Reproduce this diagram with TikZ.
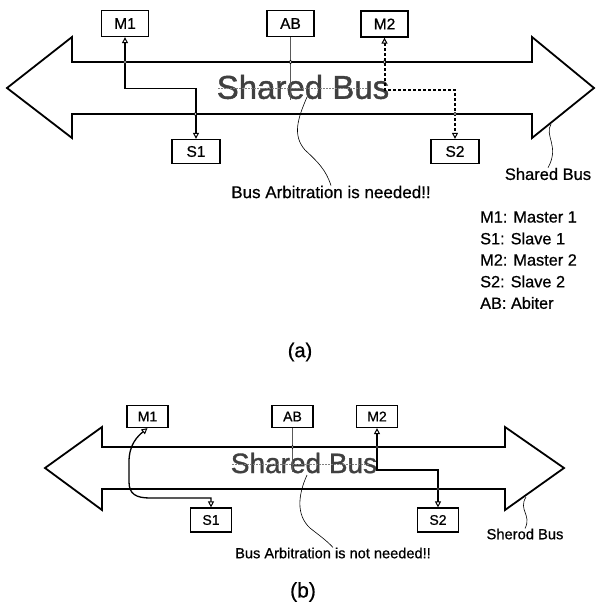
\documentclass[tikz,border=0pt]{standalone}
\usepackage{fontspec}
\setmainfont{Liberation Sans}[FakeBold=0.7]
\newfontfamily\bigfont{Liberation Sans}[FakeBold=1.2]
\usetikzlibrary{arrows.meta}
\begin{document}
\begin{tikzpicture}[x=1pt,y=-1pt,
  box/.style={draw, line width=1.3pt, fill=white, inner sep=0pt, minimum width=47pt, minimum height=26pt, font=\fontsize{15.5}{18}\selectfont},
  sbox/.style={draw, line width=1.2pt, fill=white, inner sep=0pt, minimum width=41pt, minimum height=22pt, font=\fontsize{14}{16}\selectfont},
  bus/.style={draw, line width=1.8pt, line join=miter, fill=white},
  tipA/.tip={Triangle[open,length=6pt,width=6pt,line width=1pt]},
  link/.style={line width=1.3pt, tipA-tipA},
  dlink/.style={line width=2pt, dash pattern=on 3pt off 2pt, tipA-tipA},
  leader/.style={line width=0.6pt},
  strike/.style={gray, line width=0.8pt, dash pattern=on 2pt off 1pt},
  bigtxt/.style={font=\bigfont\fontsize{33}{36}\selectfont, text=black!75, inner sep=0pt},
  midtxt/.style={font=\bigfont\fontsize{28}{30}\selectfont, text=black!75, inner sep=0pt},
  lbl/.style={inner sep=0pt},
  jdot/.style={draw, fill=white, line width=0.6pt}
]
\useasboundingbox (0,0) rectangle (596,610);

% ===================== (a) =====================
\draw[bus] (72,62) -- (72,37) -- (7,88) -- (72,138) -- (72,114) -- (532,114)
  -- (532,138) -- (594,88) -- (532,37) -- (532,62) -- cycle;
\node[bigtxt] (busa) at (303,87) {Shared Bus};
\draw[strike] (218,88) -- (367,88);

\node[box] (m1a) at (125,23.5) {M1};
\node[box] (aba) at (290.5,23.5) {AB};
\node[box] (m2a) at (384.5,24) {M2};
\node[box, minimum width=48pt, minimum height=24pt] (s1a) at (196,151.5) {S1};
\node[box, minimum width=48pt, minimum height=24pt] (s2a) at (455,151.5) {S2};

\draw[link] (m1a.south) -- ++(0,51) -| (s1a.north);
\draw[dlink] (m2a.south) -- ++(0,52) -| (s2a.north);
\draw[gray!70!black, line width=0.8pt] (aba.south) -- ++(0,63);

\foreach \p in {(125,62),(195.5,114),(290.5,62),(384.5,62),(455,114)}
  \filldraw[jdot] \p circle (1.6pt);

\node[lbl, font=\fontsize{17}{20}\selectfont] (arba) at (331,192) {Bus Arbitration is needed!!};
\node[lbl, font=\fontsize{16.5}{20}\selectfont] (sba) at (548,174) {Shared Bus};
\draw[leader] (307,97) .. controls (298,118) and (292,135) .. (305,150)
  .. controls (318,162) and (326,170) .. (arba.north);
\draw[leader] (551,124) .. controls (544,136) and (560,146) .. (sba.north);

\foreach \t/\yy [count=\i] in {M1: Master 1/217, S1: Slave 1/238.5, M2: Master 2/260, S2: Slave 2/281.5, AB: Abiter/303}
  \node[lbl, anchor=west, font=\fontsize{16.3}{20}\selectfont] (leg\i) at (480,\yy) {\t};

\node[lbl, font=\fontsize{20}{24}\selectfont] (capa) at (300,352) {(a)};

% ===================== (b) =====================
\draw[bus] (102,447) -- (102,427) -- (45,468) -- (102,510) -- (102,489) -- (505,489)
  -- (505,510) -- (564,468) -- (505,427) -- (505,447) -- cycle;
\node[midtxt] (busb) at (304,463) {Shared Bus};
\draw[strike] (232,464) -- (370,464);

\node[sbox] (m1b) at (147.5,416.5) {M1};
\node[sbox] (abb) at (292.5,416.5) {AB};
\node[sbox] (m2b) at (377,416.5) {M2};
\node[sbox, minimum height=24pt] (s1b) at (211,520) {S1};
\node[sbox, minimum height=24pt] (s2b) at (438,520) {S2};

\draw[link] (m1b.south) .. controls (138,436) and (129,444) .. (129,462)
  -- (129,482) .. controls (129,494) and (136,498) .. (150,498) -| (s1b.north);
\draw[link] (m2b.south) -- ++(0,42) -| (s2b.north);
\draw[gray!70!black, line width=0.8pt] (abb.south) -- ++(0,44);

\foreach \p in {(292.5,447),(377,447),(438,489)}
  \filldraw[jdot] \p circle (1.4pt);

\node[lbl, font=\fontsize{14.6}{18}\selectfont] (arbb) at (333,553) {Bus Arbitration is not needed!!};
\node[lbl, font=\fontsize{14.7}{18}\selectfont] (sbb) at (525,534) {Sherod Bus};
\draw[leader] (307,475) .. controls (298,495) and (296,515) .. (310,528)
  .. controls (320,536) and (326,540) .. (arbb.north);
\draw[leader] (526,497) .. controls (518,510) and (532,515) .. (sbb.north);

\node[lbl, font=\fontsize{21}{24}\selectfont] (capb) at (303,592) {(b)};
\end{tikzpicture}
\end{document}
